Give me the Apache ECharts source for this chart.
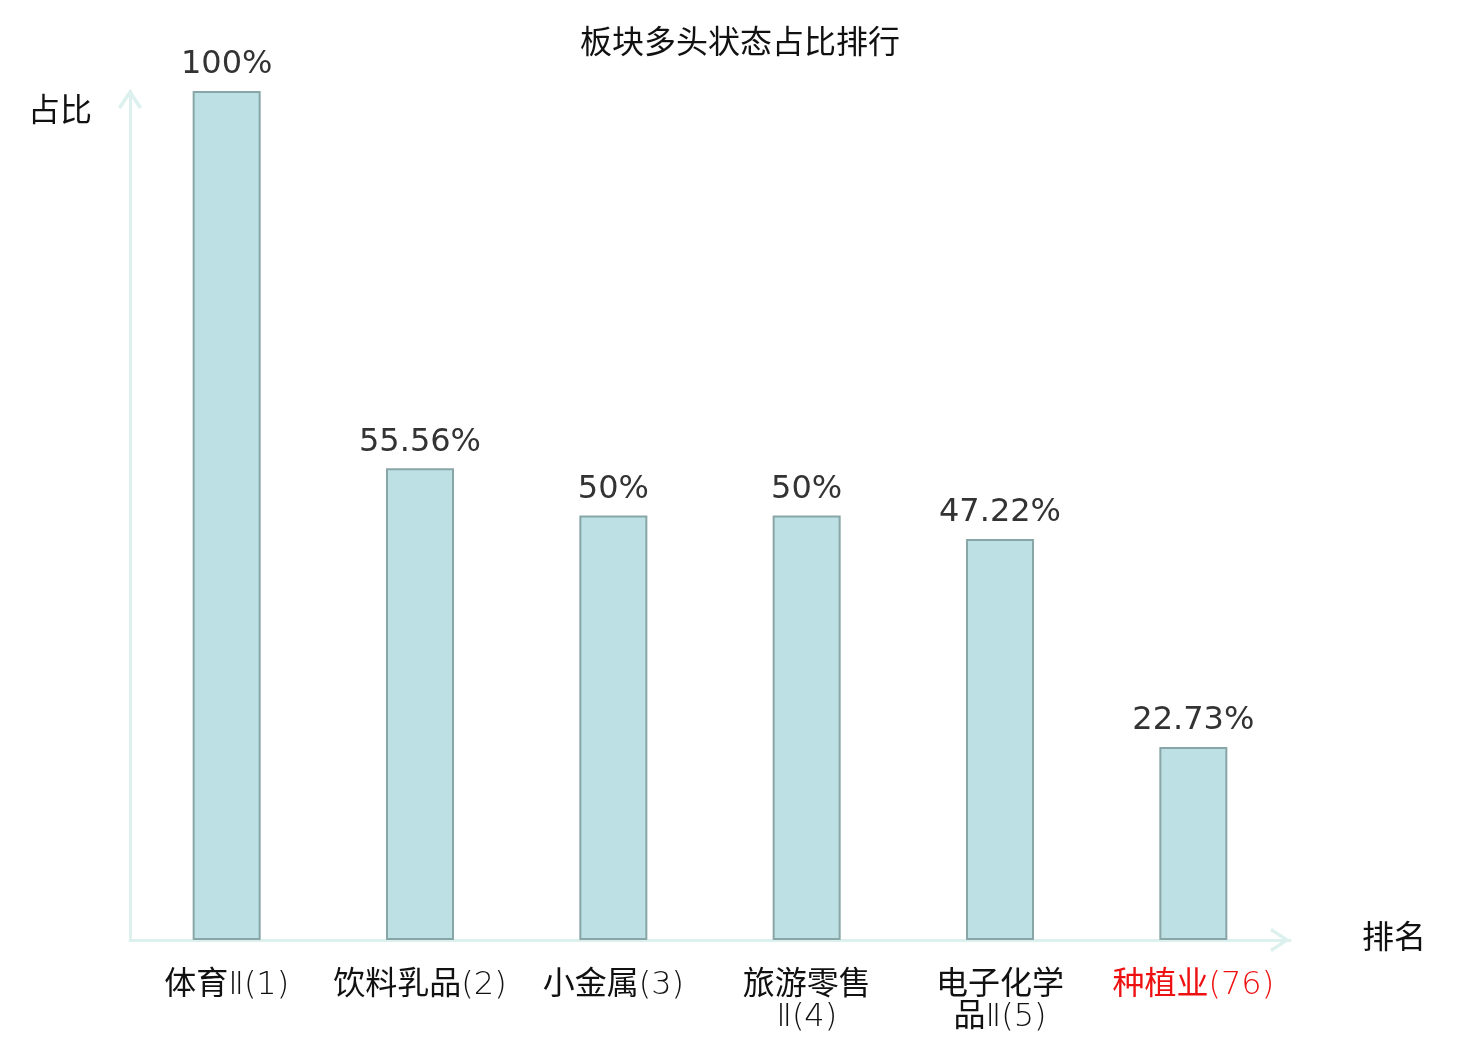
<!DOCTYPE html>
<html>
<head>
<meta charset="utf-8">
<title>板块多头状态占比排行</title>
<script src="https://cdn.jsdelivr.net/npm/echarts@6/dist/echarts.min.js"></script>
<style>
    html, body { margin: 0; padding: 0; background: #fff; }
    #chart { width: 1480px; height: 1040px; }
</style>
</head>
<body>
<div id="chart"></div>
<script>
/* ===========================
   Data
=========================== */

const categories = [
    "体育Ⅱ(1)",
    "饮料乳品(2)",
    "小金属(3)",
    "旅游零售\nⅡ(4)",
    "电子化学\n品Ⅱ(5)",
    "种植业(76)"
];

const ratios = [100, 55.56, 50, 50, 47.22, 22.73];

// the last one is the highlighted sector
const highlightIndex = 5;

/* ===========================
   Chart
=========================== */

const CJK = "'DejaVu Sans', 'Noto Sans CJK SC', sans-serif";
const CJK_LIGHT = "'DejaVu Sans Light', 'Noto Sans CJK SC', sans-serif";
const AXIS_COLOR = "#dcf0ed";

// open chevron, pointing up
const CHEVRON = "path://M0 18 L12 0 L24 18 L21 19.8 L12 5.8 L3 19.8 Z";

const chart = echarts.init(document.getElementById("chart"));

chart.setOption({

    animation: false,

    title: {
        text: "板块多头状态占比排行",
        left: "center",
        top: 24,
        textStyle: {
            fontFamily: CJK,
            fontSize: 32,
            fontWeight: "normal",
            color: "#111"
        }
    },

    grid: {
        left: 130,
        right: 190,
        top: 91,
        bottom: 100
    },

    xAxis: {
        type: "category",
        data: categories,
        name: "排名",
        nameLocation: "end",
        nameGap: 72,
        nameTextStyle: {
            fontFamily: CJK,
            fontSize: 32,
            color: "#111",
            padding: [8, 0, 0, 0]
        },
        axisLine: {
            lineStyle: {
                color: AXIS_COLOR,
                width: 3
            },
            symbol: ["none", CHEVRON],
            symbolSize: [24, 20],
            symbolOffset: [0, -10]
        },
        axisTick: { show: false },
        axisLabel: {
            interval: 0,
            margin: 30,
            fontFamily: CJK_LIGHT,
            fontSize: 32,
            lineHeight: 32,
            color: (value, index) =>
                index === highlightIndex ? "#ee1111" : "#111"
        }
    },

    yAxis: {
        type: "value",
        min: 0,
        max: 100,
        name: "占比",
        nameLocation: "end",
        nameGap: -22,
        nameTextStyle: {
            fontFamily: CJK,
            fontSize: 32,
            color: "#111",
            align: "right",
            verticalAlign: "middle",
            padding: [0, 38, 0, 0]
        },
        axisLine: {
            show: true,
            lineStyle: {
                color: AXIS_COLOR,
                width: 3
            },
            symbol: ["none", CHEVRON],
            symbolSize: [24, 20],
            symbolOffset: [0, -8]
        },
        axisTick: { show: false },
        axisLabel: { show: false },
        splitLine: { show: false }
    },

    series: [{
        type: "bar",
        data: ratios,
        barWidth: 68,
        itemStyle: {
            color: "#bce0e3",
            borderColor: "#88a5a7",
            borderWidth: 2
        },
        label: {
            show: true,
            position: "top",
            distance: 10,
            formatter: "{c}%",
            fontFamily: "'DejaVu Sans', sans-serif",
            fontSize: 32,
            color: "#333"
        }
    }]

});
</script>
</body>
</html>
